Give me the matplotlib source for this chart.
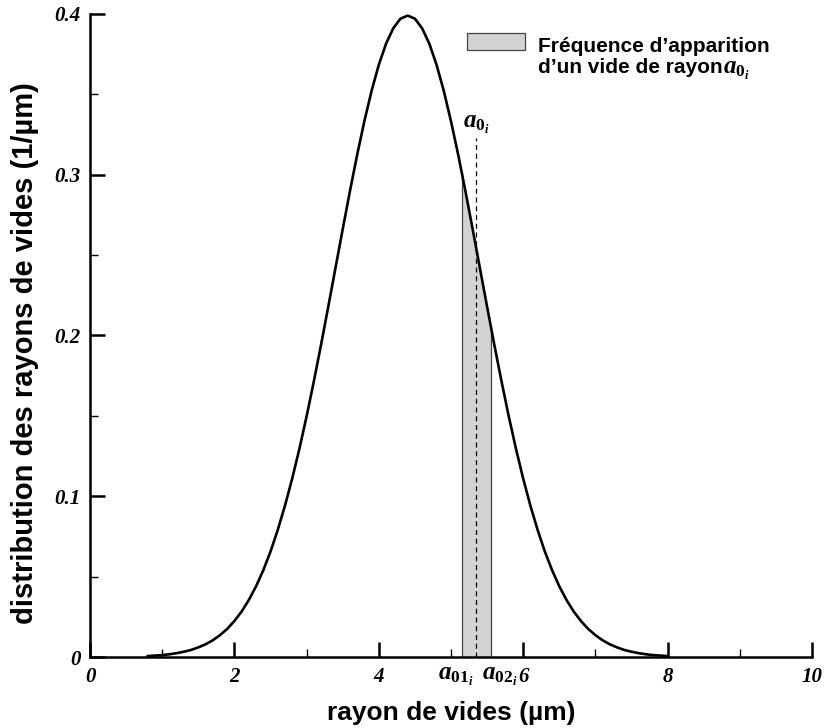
import matplotlib
matplotlib.use('Agg')
import numpy as np
import matplotlib.pyplot as plt
from matplotlib.patches import Rectangle

# Valeurs (rayon en µm, distribution en 1/µm)
rayon = [0.8, 0.9, 1.0, 1.1, 1.2, 1.3, 1.4, 1.5, 1.6, 1.7, 1.8, 1.9,
         2.0, 2.1, 2.2, 2.3, 2.4, 2.5, 2.6, 2.7, 2.8, 2.9, 3.0, 3.1,
         3.2, 3.3, 3.4, 3.5, 3.6, 3.7, 3.8, 3.9, 4.0, 4.1, 4.2, 4.3,
         4.4, 4.5, 4.6, 4.7, 4.8, 4.9, 5.0, 5.1, 5.2, 5.3, 5.4, 5.5,
         5.6, 5.7, 5.8, 5.9, 6.0, 6.1, 6.2, 6.3, 6.4, 6.5, 6.6, 6.7,
         6.8, 6.9, 7.0, 7.1, 7.2, 7.3, 7.4, 7.5, 7.6, 7.7, 7.8, 7.9, 8.0]
distribution = [0.0006, 0.0009, 0.0012, 0.0017, 0.0024, 0.0033, 0.0044, 0.0060,
                0.0079, 0.0104, 0.0136, 0.0175, 0.0224, 0.0283, 0.0355, 0.0440,
                0.0540, 0.0656, 0.0790, 0.0941, 0.1109, 0.1295, 0.1497, 0.1714,
                0.1942, 0.2179, 0.2420, 0.2661, 0.2897, 0.3123, 0.3332, 0.3521,
                0.3683, 0.3814, 0.3910, 0.3970, 0.3989,
                0.3970, 0.3910, 0.3814, 0.3683, 0.3521, 0.3332, 0.3123, 0.2897,
                0.2661, 0.2420, 0.2179, 0.1942, 0.1714, 0.1497, 0.1295, 0.1109,
                0.0941, 0.0790, 0.0656, 0.0540, 0.0440, 0.0355, 0.0283, 0.0224,
                0.0175, 0.0136, 0.0104, 0.0079, 0.0060, 0.0044, 0.0033, 0.0024,
                0.0017, 0.0012, 0.0009, 0.0006]

# intervalle de rayon a01_i - a02_i et rayon a0_i
a01 = 5.15
a02 = 5.55
a0 = 5.35
a0_haut = 0.323

plt.rcParams['mathtext.fontset'] = 'custom'
plt.rcParams['mathtext.it'] = 'Liberation Serif:italic:bold'
plt.rcParams['mathtext.rm'] = 'Liberation Serif:bold'

fig = plt.figure(figsize=(8.26, 7.28), dpi=100)
ax = fig.add_axes([0.109, 0.0975, 0.874, 0.8835])

# zone grisée sous la courbe
xs = np.linspace(a01, a02, 50)
ys = np.interp(xs, rayon, distribution)
ax.fill_between(xs, 0, ys, color='#d3d3d3', linewidth=0, zorder=1)
ax.plot([a01, a01], [0, np.interp(a01, rayon, distribution)], color='#444444', lw=0.9, zorder=2)
ax.plot([a02, a02], [0, np.interp(a02, rayon, distribution)], color='#444444', lw=0.9, zorder=2)

# courbe
ax.plot(rayon, distribution, color='black', lw=1.9, zorder=3)

# ligne pointillée a0_i
ax.plot([a0, a0], [0, a0_haut], color='black', lw=0.9, ls=(0, (4, 3)), zorder=2)
ax.text(a0, a0_haut + 0.001, r'$a_{0_i}$', ha='center', va='bottom', fontsize=18)

ax.set_xlim(0, 10)
ax.set_ylim(0, 0.4)
ax.set_xticks([0, 2, 4, 6, 8, 10])
ax.set_xticks([1, 3, 5, 7, 9], minor=True)
ax.set_yticks([0, 0.1, 0.2, 0.3, 0.4])
ax.set_yticks([0.05, 0.15, 0.25, 0.35], minor=True)
ax.set_xticklabels(['0', '2', '4', '6', '8', '10'])
ax.set_yticklabels(['0', '0.1', '0.2', '0.3', '0.4'])

for lab in ax.get_xticklabels() + ax.get_yticklabels():
    lab.set_fontfamily('Liberation Serif')
    lab.set_fontstyle('italic')
    lab.set_fontweight('bold')
    lab.set_fontsize(15)

ax.tick_params(which='major', direction='in', length=11, width=1.8, pad=7)
ax.tick_params(which='minor', direction='in', length=6, width=1)
ax.spines['top'].set_visible(False)
ax.spines['right'].set_visible(False)
ax.spines['left'].set_linewidth(1.8)
ax.spines['bottom'].set_linewidth(1.8)

# étiquettes a01_i et a02_i sous l'axe
ax.text(5.06, -0.0145, r'$a_{01_i}$', ha='center', va='baseline', fontsize=18, clip_on=False)
ax.text(5.68, -0.0145, r'$a_{02_i}$', ha='center', va='baseline', fontsize=18, clip_on=False)

# titres des axes
fig.text(451 / 826, 1 - 713 / 728, 'rayon de vides (µm)', ha='center', va='center',
         fontfamily='Liberation Sans', fontweight='bold', fontsize=19)
fig.text(25 / 826, 1 - 353 / 728, 'distribution des rayons de vides (1/µm)', ha='center', va='center',
         rotation=90, fontfamily='Liberation Sans', fontweight='bold', fontsize=21)

# légende
ax.add_patch(Rectangle((0.522, 0.944), 0.0803, 0.026, transform=ax.transAxes,
                       facecolor='#d3d3d3', edgecolor='#444444', lw=0.9, clip_on=False))
ax.text(0.6205, 0.9409, 'Fréquence d’apparition', transform=ax.transAxes,
        ha='left', va='baseline', fontfamily='Liberation Sans', fontweight='bold', fontsize=15)
ligne2 = ax.text(0.6205, 0.9082, 'd’un vide de rayon', transform=ax.transAxes,
                 ha='left', va='baseline', fontfamily='Liberation Sans', fontweight='bold', fontsize=15)
ax.annotate(r'$a_{0_i}$', xy=(1, 0), xycoords=ligne2, xytext=(0, -4), textcoords='offset points',
            ha='left', va='bottom', fontsize=18)

fig.savefig('out.png', dpi=100)
